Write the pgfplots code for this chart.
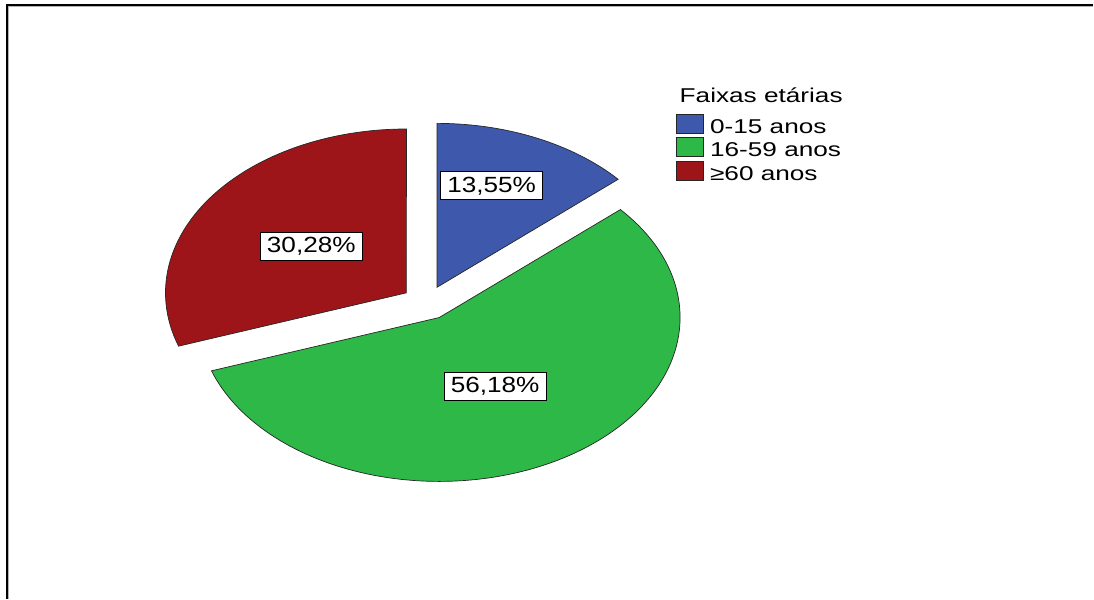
\documentclass[border=0pt]{standalone}
\usepackage{pgfplots}
\usepackage{pgfplotstable}
\pgfplotsset{compat=1.18}
\usepackage{fontspec}
\setmainfont{Liberation Sans}
\newfontfamily\labfont{Liberation Sans}[FakeStretch=1.19]
\newfontfamily\legfont{Liberation Sans}[FakeStretch=1.31]

\definecolor{cA}{RGB}{62,88,172}
\definecolor{cB}{RGB}{46,184,72}
\definecolor{cC}{RGB}{158,21,25}

% pie data (percent)
\pgfplotstableread{
value
13.55
56.18
30.28
}\piedata

\pgfplotstablegetelem{0}{value}\of\piedata \let\vA\pgfplotsretval
\pgfplotstablegetelem{1}{value}\of\piedata \let\vB\pgfplotsretval
\pgfplotstablegetelem{2}{value}\of\piedata \let\vC\pgfplotsretval

% geometry (pixels): centre, semi-axes, explode factor
\def\cx{427}\def\cy{303}\def\ra{241}\def\rb{164}\def\ex{0.104}

\pgfmathsetmacro\sA{90}
\pgfmathsetmacro\eA{\sA-3.6*\vA}
\pgfmathsetmacro\sB{\eA}
\pgfmathsetmacro\eB{\sB-3.6*\vB}
\pgfmathsetmacro\sC{\eB}
\pgfmathsetmacro\eC{\sC-3.6*\vC}
\pgfmathsetmacro\mA{(\sA+\eA)/2}
\pgfmathsetmacro\mB{(\sB+\eB)/2}
\pgfmathsetmacro\mC{(\sC+\eC)/2}
\pgfmathsetmacro\xA{\cx+\ra*\ex*cos(\mA)}\pgfmathsetmacro\yA{\cy-\rb*\ex*sin(\mA)}
\pgfmathsetmacro\xB{\cx+\ra*\ex*cos(\mB)}\pgfmathsetmacro\yB{\cy-\rb*\ex*sin(\mB)}
\pgfmathsetmacro\xC{\cx+\ra*\ex*cos(\mC)}\pgfmathsetmacro\yC{\cy-\rb*\ex*sin(\mC)}

\begin{document}
\begin{tikzpicture}
\begin{axis}[
  scale only axis, width=1094pt, height=599pt,
  xmin=0, xmax=1094, ymin=0, ymax=599, y dir=reverse,
  hide axis, clip=false,
  legend style={at={(axis cs:676,114)}, anchor=north west, draw=none, fill=none,
    font=\legfont\fontsize{20}{22}\selectfont, inner sep=0pt, outer sep=0pt,
    row sep=-0.5pt,
    nodes={inner sep=0pt, text height=14.5pt, text depth=4.5pt, anchor=base west}},
  legend cell align=left,
]
\path (rel axis cs:0,0) (rel axis cs:1,1);
% frame
\draw[gray!60, line width=1pt] (axis cs:8.3,599) -- (axis cs:8.3,6.3) -- (axis cs:1094,6.3);
\draw[black, line width=1.6pt] (axis cs:6.8,599) -- (axis cs:6.8,4.8) -- (axis cs:1094,4.8);

% slices
\filldraw[fill=cA, draw=black!85, line width=0.7pt]
  (axis cs:\xA,\yA) -- (axis cs:{\xA+\ra*cos(\sA)},{\yA-\rb*sin(\sA)})
  arc[start angle=\sA, end angle=\eA, x radius=\ra pt, y radius=\rb pt] -- cycle;
\filldraw[fill=cB, draw=black!85, line width=0.7pt]
  (axis cs:\xB,\yB) -- (axis cs:{\xB+\ra*cos(\sB)},{\yB-\rb*sin(\sB)})
  arc[start angle=\sB, end angle=\eB, x radius=\ra pt, y radius=\rb pt] -- cycle;
\filldraw[fill=cC, draw=black!85, line width=0.7pt]
  (axis cs:\xC,\yC) -- (axis cs:{\xC+\ra*cos(\sC)},{\yC-\rb*sin(\sC)})
  arc[start angle=\sC, end angle=\eC, x radius=\ra pt, y radius=\rb pt] -- cycle;

% labels
\tikzset{plab/.style={draw=black, line width=0.8pt, fill=white, inner sep=0pt,
  minimum width=102pt, minimum height=28pt, font=\labfont\fontsize{22}{24}\selectfont}}
\node[plab] at (axis cs:492,186) {13,55\%};
\node[plab] at (axis cs:311.5,246.5) {30,28\%};
\node[plab] at (axis cs:495.5,387) {56,18\%};

% legend
\node[anchor=base west, font=\legfont\fontsize{20}{22}\selectfont, inner sep=0pt] at (axis cs:680,103) {Faixas etárias};
\addlegendimage{legend image code/.code={\path (0pt,0pt) (34pt,0pt);\filldraw[fill=cA,draw=black!85,line width=0.8pt] (0pt,0pt) rectangle (28pt,19pt);}}
\addlegendentry{0-15 anos}
\addlegendimage{legend image code/.code={\path (0pt,0pt) (34pt,0pt);\filldraw[fill=cB,draw=black!85,line width=0.8pt] (0pt,0pt) rectangle (28pt,19pt);}}
\addlegendentry{16-59 anos}
\addlegendimage{legend image code/.code={\path (0pt,0pt) (34pt,0pt);\filldraw[fill=cC,draw=black!85,line width=0.8pt] (0pt,0pt) rectangle (28pt,19pt);}}
\addlegendentry{≥60 anos}
\end{axis}
\end{tikzpicture}
\end{document}
